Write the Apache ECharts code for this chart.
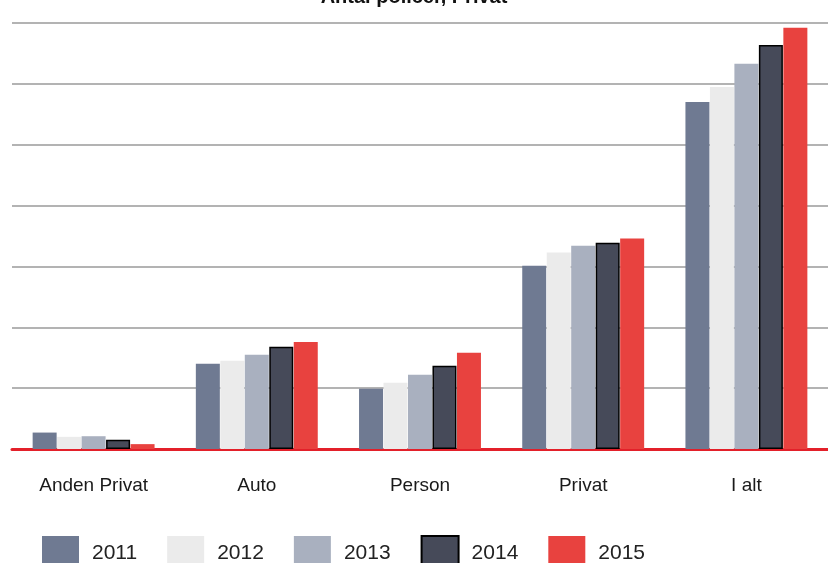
<!DOCTYPE html>
<html><head><meta charset="utf-8">
<script src="https://cdn.jsdelivr.net/npm/echarts@6/dist/echarts.min.js"></script>
<style>html,body{margin:0;padding:0;background:#fff}#c{width:828px;height:563px}</style>
</head><body><div id="c"></div>
<script>
const categories = ['Anden Privat', 'Auto', 'Person', 'Privat', 'I alt'];
const years = ['2011', '2012', '2013', '2014', '2015'];
const v2011 = [0.27, 1.40, 0.99, 3.01, 5.70];
const v2012 = [0.20, 1.45, 1.09, 3.23, 5.95];
const v2013 = [0.21, 1.55, 1.22, 3.34, 6.33];
const v2014 = [0.15, 1.68, 1.37, 3.39, 6.64];
const v2015 = [0.08, 1.76, 1.58, 3.46, 6.92];
const colors = ['#6f7a92', '#ebebeb', '#a9b0bf', '#464a59', '#e8423f'];
const values = [v2011, v2012, v2013, v2014, v2015];

const chart = echarts.init(document.getElementById('c'));
chart.setOption({
  animation: false,
  title: {
    text: 'Antal policer, Privat', left: 'center', top: -18,
    textStyle: {fontFamily: 'Liberation Sans', fontSize: 20, fontWeight: 'bold', color: '#111'}
  },
  legend: {
    data: years, left: 37, top: 530, itemWidth: 37, itemHeight: 34, itemGap: 30,
    icon: 'rect',
    textStyle: {fontFamily: 'Liberation Sans', fontSize: 21, color: '#222', padding: [0, 0, 0, 8]}
  },
  grid: {left: 12, right: 0, top: 23, bottom: 114},
  xAxis: {
    type: 'category', data: categories,
    axisLine: {show: true, lineStyle: {color: '#e3202a', width: 3}},
    axisTick: {show: false},
    axisLabel: {margin: 27, fontFamily: 'Liberation Sans', fontSize: 19, color: '#1a1a1a'}
  },
  yAxis: {
    type: 'value', min: 0, max: 7, interval: 1,
    axisLabel: {show: false}, axisLine: {show: false}, axisTick: {show: false},
    splitLine: {lineStyle: {color: '#9a9a9a', width: 1.5}}
  },
  series: years.map((y, i) => ({
    name: y, type: 'bar', data: values[i],
    barWidth: 24, barGap: '2%', barCategoryGap: '24%',
    itemStyle: i === 3 ? {color: colors[i], borderColor: '#000', borderWidth: 1.5} : {color: colors[i]}
  }))
});
</script></body></html>
